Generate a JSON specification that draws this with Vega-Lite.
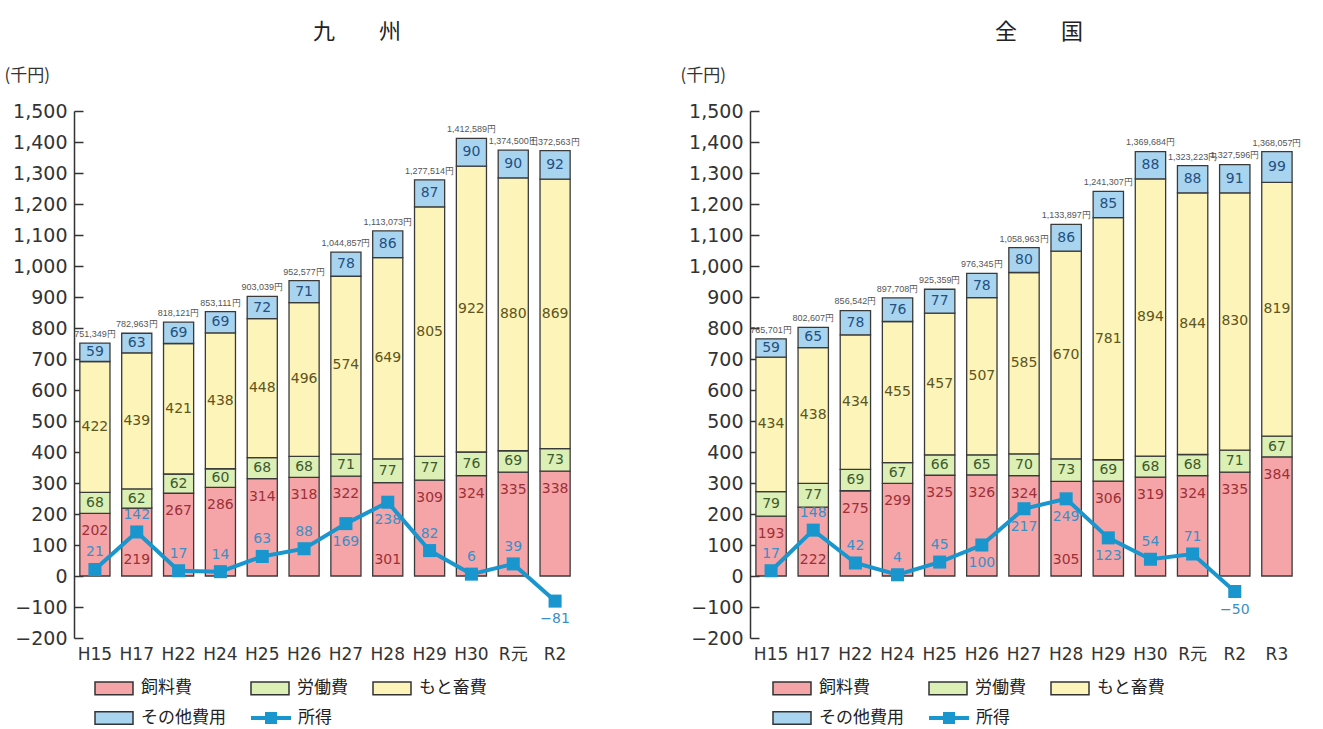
{
  "$schema": "https://vega.github.io/schema/vega-lite/v6.json",
  "background": "white",
  "padding": {"left": 4, "top": 21, "right": 5, "bottom": 0},
  "config": {"view": {"stroke": null}, "font": "Noto Sans CJK JP", "axis": {"grid": false}, "axisY": {"labelOverlap": false, "format": ",d", "titleAngle": 0, "titleAlign": "left", "titleBaseline": "middle", "titleX": -70, "titleY": -36, "titleFontSize": 17, "titleFontWeight": "normal", "titleFont": "Noto Sans CJK JP", "titleColor": "#333", "labelFont": "DejaVu Sans", "labelFontSize": 19, "labelColor": "#333", "domainColor": "#333", "domainWidth": 1.5, "tickColor": "#333", "tickWidth": 1.5, "tickSize": -9, "labelPadding": 16}},
  "datasets": {
    "k_cost": [
      {"区分":"H15","項目":"飼料費","千円":202},{"区分":"H15","項目":"労働費","千円":68},{"区分":"H15","項目":"もと畜費","千円":422},{"区分":"H15","項目":"その他費用","千円":59},
      {"区分":"H17","項目":"飼料費","千円":219},{"区分":"H17","項目":"労働費","千円":62},{"区分":"H17","項目":"もと畜費","千円":439},{"区分":"H17","項目":"その他費用","千円":63},
      {"区分":"H22","項目":"飼料費","千円":267},{"区分":"H22","項目":"労働費","千円":62},{"区分":"H22","項目":"もと畜費","千円":421},{"区分":"H22","項目":"その他費用","千円":69},
      {"区分":"H24","項目":"飼料費","千円":286},{"区分":"H24","項目":"労働費","千円":60},{"区分":"H24","項目":"もと畜費","千円":438},{"区分":"H24","項目":"その他費用","千円":69},
      {"区分":"H25","項目":"飼料費","千円":314},{"区分":"H25","項目":"労働費","千円":68},{"区分":"H25","項目":"もと畜費","千円":448},{"区分":"H25","項目":"その他費用","千円":72},
      {"区分":"H26","項目":"飼料費","千円":318},{"区分":"H26","項目":"労働費","千円":68},{"区分":"H26","項目":"もと畜費","千円":496},{"区分":"H26","項目":"その他費用","千円":71},
      {"区分":"H27","項目":"飼料費","千円":322},{"区分":"H27","項目":"労働費","千円":71},{"区分":"H27","項目":"もと畜費","千円":574},{"区分":"H27","項目":"その他費用","千円":78},
      {"区分":"H28","項目":"飼料費","千円":301},{"区分":"H28","項目":"労働費","千円":77},{"区分":"H28","項目":"もと畜費","千円":649},{"区分":"H28","項目":"その他費用","千円":86},
      {"区分":"H29","項目":"飼料費","千円":309},{"区分":"H29","項目":"労働費","千円":77},{"区分":"H29","項目":"もと畜費","千円":805},{"区分":"H29","項目":"その他費用","千円":87},
      {"区分":"H30","項目":"飼料費","千円":324},{"区分":"H30","項目":"労働費","千円":76},{"区分":"H30","項目":"もと畜費","千円":922},{"区分":"H30","項目":"その他費用","千円":90},
      {"区分":"R元","項目":"飼料費","千円":335},{"区分":"R元","項目":"労働費","千円":69},{"区分":"R元","項目":"もと畜費","千円":880},{"区分":"R元","項目":"その他費用","千円":90},
      {"区分":"R2","項目":"飼料費","千円":338},{"区分":"R2","項目":"労働費","千円":73},{"区分":"R2","項目":"もと畜費","千円":869},{"区分":"R2","項目":"その他費用","千円":92}
    ],
    "k_sum": [
      {"区分":"H15","所得":21,"合計":751.349,"合計表示":"751,349円"},
      {"区分":"H17","所得":142,"合計":782.963,"合計表示":"782,963円"},
      {"区分":"H22","所得":17,"合計":818.121,"合計表示":"818,121円"},
      {"区分":"H24","所得":14,"合計":853.111,"合計表示":"853,111円"},
      {"区分":"H25","所得":63,"合計":903.039,"合計表示":"903,039円"},
      {"区分":"H26","所得":88,"合計":952.577,"合計表示":"952,577円"},
      {"区分":"H27","所得":169,"合計":1044.857,"合計表示":"1,044,857円"},
      {"区分":"H28","所得":238,"合計":1113.073,"合計表示":"1,113,073円"},
      {"区分":"H29","所得":82,"合計":1277.514,"合計表示":"1,277,514円"},
      {"区分":"H30","所得":6,"合計":1412.589,"合計表示":"1,412,589円"},
      {"区分":"R元","所得":39,"合計":1374.5,"合計表示":"1,374,500円"},
      {"区分":"R2","所得":-81,"合計":1372.563,"合計表示":"1,372,563円"}
    ],
    "z_cost": [
      {"区分":"H15","項目":"飼料費","千円":193},{"区分":"H15","項目":"労働費","千円":79},{"区分":"H15","項目":"もと畜費","千円":434},{"区分":"H15","項目":"その他費用","千円":59},
      {"区分":"H17","項目":"飼料費","千円":222},{"区分":"H17","項目":"労働費","千円":77},{"区分":"H17","項目":"もと畜費","千円":438},{"区分":"H17","項目":"その他費用","千円":65},
      {"区分":"H22","項目":"飼料費","千円":275},{"区分":"H22","項目":"労働費","千円":69},{"区分":"H22","項目":"もと畜費","千円":434},{"区分":"H22","項目":"その他費用","千円":78},
      {"区分":"H24","項目":"飼料費","千円":299},{"区分":"H24","項目":"労働費","千円":67},{"区分":"H24","項目":"もと畜費","千円":455},{"区分":"H24","項目":"その他費用","千円":76},
      {"区分":"H25","項目":"飼料費","千円":325},{"区分":"H25","項目":"労働費","千円":66},{"区分":"H25","項目":"もと畜費","千円":457},{"区分":"H25","項目":"その他費用","千円":77},
      {"区分":"H26","項目":"飼料費","千円":326},{"区分":"H26","項目":"労働費","千円":65},{"区分":"H26","項目":"もと畜費","千円":507},{"区分":"H26","項目":"その他費用","千円":78},
      {"区分":"H27","項目":"飼料費","千円":324},{"区分":"H27","項目":"労働費","千円":70},{"区分":"H27","項目":"もと畜費","千円":585},{"区分":"H27","項目":"その他費用","千円":80},
      {"区分":"H28","項目":"飼料費","千円":305},{"区分":"H28","項目":"労働費","千円":73},{"区分":"H28","項目":"もと畜費","千円":670},{"区分":"H28","項目":"その他費用","千円":86},
      {"区分":"H29","項目":"飼料費","千円":306},{"区分":"H29","項目":"労働費","千円":69},{"区分":"H29","項目":"もと畜費","千円":781},{"区分":"H29","項目":"その他費用","千円":85},
      {"区分":"H30","項目":"飼料費","千円":319},{"区分":"H30","項目":"労働費","千円":68},{"区分":"H30","項目":"もと畜費","千円":894},{"区分":"H30","項目":"その他費用","千円":88},
      {"区分":"R元","項目":"飼料費","千円":324},{"区分":"R元","項目":"労働費","千円":68},{"区分":"R元","項目":"もと畜費","千円":844},{"区分":"R元","項目":"その他費用","千円":88},
      {"区分":"R2","項目":"飼料費","千円":335},{"区分":"R2","項目":"労働費","千円":71},{"区分":"R2","項目":"もと畜費","千円":830},{"区分":"R2","項目":"その他費用","千円":91},
      {"区分":"R3","項目":"飼料費","千円":384},{"区分":"R3","項目":"労働費","千円":67},{"区分":"R3","項目":"もと畜費","千円":819},{"区分":"R3","項目":"その他費用","千円":99}
    ],
    "z_sum": [
      {"区分":"H15","所得":17,"合計":765.701,"合計表示":"765,701円"},
      {"区分":"H17","所得":148,"合計":802.607,"合計表示":"802,607円"},
      {"区分":"H22","所得":42,"合計":856.542,"合計表示":"856,542円"},
      {"区分":"H24","所得":4,"合計":897.708,"合計表示":"897,708円"},
      {"区分":"H25","所得":45,"合計":925.359,"合計表示":"925,359円"},
      {"区分":"H26","所得":100,"合計":976.345,"合計表示":"976,345円"},
      {"区分":"H27","所得":217,"合計":1058.963,"合計表示":"1,058,963円"},
      {"区分":"H28","所得":249,"合計":1133.897,"合計表示":"1,133,897円"},
      {"区分":"H29","所得":123,"合計":1241.307,"合計表示":"1,241,307円"},
      {"区分":"H30","所得":54,"合計":1369.684,"合計表示":"1,369,684円"},
      {"区分":"R元","所得":71,"合計":1323.223,"合計表示":"1,323,223円"},
      {"区分":"R2","所得":-50,"合計":1327.596,"合計表示":"1,327,596円"},
      {"区分":"R3","所得":null,"合計":1368.057,"合計表示":"1,368,057円"}
    ]
  },
  "spacing": 100,
  "resolve": {"scale": {"fill": "independent", "color": "independent", "stroke": "independent"}, "legend": {"fill": "independent", "color": "independent", "stroke": "independent"}},
  "hconcat": [
    {
      "width": 502, "height": 527,
      "title": {"text": "九　　州", "fontSize": 22, "fontWeight": "normal", "color": "#222", "font": "Noto Sans CJK JP", "dx": 32, "offset": 22, "anchor": "middle"},
      "layer": [
        {
          "data": {"name": "k_cost"},
          "mark": {"type": "bar", "stroke": "#3a3a3a", "strokeWidth": 1.3},
          "encoding": {
            "x": {"field": "区分", "type": "nominal", "title": null, "scale": {"domain": ["H15","H17","H22","H24","H25","H26","H27","H28","H29","H30","R元","R2"], "paddingInner": 0.28, "paddingOuter": 0.14}, "axis": {"labelAngle": 0, "domain": false, "ticks": false, "labelFontSize": 17, "labelFont": "DejaVu Sans, Noto Sans CJK JP", "labelColor": "#333", "labelPadding": 8}},
            "y": {"field": "千円", "type": "quantitative", "stack": "zero", "title": "(千円)", "scale": {"domain": [-200, 1500], "nice": false, "zero": false}, "axis": {"values": [-200,-100,0,100,200,300,400,500,600,700,800,900,1000,1100,1200,1300,1400,1500], "labelOverlap": false}},
            "fill": {"field": "項目", "type": "nominal", "scale": {"domain": ["飼料費","労働費","もと畜費","その他費用"], "range": ["#f5a5a7","#dcefb5","#fcf4b9","#a8d4f0"]}, "legend": {"orient": "none", "legendX": 20, "legendY": 557, "direction": "horizontal", "columns": 3, "title": null, "symbolType": "M-1,-0.33H1V0.33H-1Z", "symbolSize": 1444, "symbolStrokeColor": "#333", "symbolStrokeWidth": 1.5, "labelFontSize": 17, "labelFont": "Noto Sans CJK JP", "labelColor": "#222", "labelOffset": 7, "columnPadding": 22, "rowPadding": -7}}
          }
        },
        {
          "data": {"name": "k_cost"},
          "mark": {"type": "text", "fontSize": 14, "font": "DejaVu Sans", "baseline": "middle"},
          "encoding": {
            "x": {"field": "区分", "type": "nominal"},
            "y": {"field": "千円", "type": "quantitative", "stack": "zero", "bandPosition": 0.5, "title": "(千円)", "axis": {"values": [-200,-100,0,100,200,300,400,500,600,700,800,900,1000,1100,1200,1300,1400,1500], "labelOverlap": false}},
            "color": {"field": "項目", "type": "nominal", "scale": {"domain": ["飼料費","労働費","もと畜費","その他費用"], "range": ["#9c3038","#3d5a2c","#5e5520","#24507e"]}, "legend": null},
            "text": {"condition": {"test": {"field": "項目", "equal": "飼料費"}, "value": ""}, "field": "千円", "type": "quantitative"}
          }
        },
        {
          "data": {"name": "k_cost"},
          "transform": [{"filter": {"field": "項目", "equal": "飼料費"}}, {"filter": {"not": {"field": "区分", "oneOf": ["H17","H28"]}}}],
          "mark": {"type": "text", "fontSize": 14, "font": "DejaVu Sans", "baseline": "middle", "color": "#9c3038", "dy": 18},
          "encoding": {
            "x": {"field": "区分", "type": "nominal"},
            "y": {"field": "千円", "type": "quantitative", "title": "(千円)", "axis": {"values": [-200,-100,0,100,200,300,400,500,600,700,800,900,1000,1100,1200,1300,1400,1500], "labelOverlap": false}},
            "text": {"field": "千円", "type": "quantitative"}
          }
        },
        {
          "data": {"name": "k_cost"},
          "transform": [{"filter": {"field": "項目", "equal": "飼料費"}}, {"filter": {"field": "区分", "oneOf": ["H17","H28"]}}],
          "mark": {"type": "text", "fontSize": 14, "font": "DejaVu Sans", "baseline": "middle", "color": "#9c3038", "dy": -16},
          "encoding": {
            "x": {"field": "区分", "type": "nominal"},
            "y": {"datum": 0, "type": "quantitative", "title": "(千円)", "axis": {"values": [-200,-100,0,100,200,300,400,500,600,700,800,900,1000,1100,1200,1300,1400,1500], "labelOverlap": false}},
            "text": {"field": "千円", "type": "quantitative"}
          }
        },
        {
          "data": {"name": "k_sum"},
          "mark": {"type": "line", "strokeWidth": 4},
          "encoding": {
            "x": {"field": "区分", "type": "nominal"},
            "y": {"field": "所得", "type": "quantitative", "title": "(千円)", "axis": {"values": [-200,-100,0,100,200,300,400,500,600,700,800,900,1000,1100,1200,1300,1400,1500], "labelOverlap": false}},
            "stroke": {"datum": "所得", "scale": {"range": ["#1a96cf"]}, "legend": {"orient": "none", "legendX": 177, "legendY": 587, "title": null, "symbolType": "M-1,-0.1H-0.3V-0.3H0.3V-0.1H1V0.1H0.3V0.3H-0.3V0.1H-1Z", "symbolSize": 1600, "symbolFillColor": "#1a96cf", "symbolStrokeWidth": 0, "labelFontSize": 17, "labelFont": "Noto Sans CJK JP", "labelColor": "#222", "labelOffset": 7}}
          }
        },
        {
          "data": {"name": "k_sum"},
          "mark": {"type": "point", "shape": "square", "filled": true, "size": 170, "color": "#1a96cf", "opacity": 1},
          "encoding": {
            "x": {"field": "区分", "type": "nominal"},
            "y": {"field": "所得", "type": "quantitative", "title": "(千円)", "axis": {"values": [-200,-100,0,100,200,300,400,500,600,700,800,900,1000,1100,1200,1300,1400,1500], "labelOverlap": false}}
          }
        },
        {
          "data": {"name": "k_sum"},
          "transform": [{"filter": {"or": [{"and": [{"field": "所得", "gte": 0}, {"field": "所得", "lt": 100}]}, {"field": "区分", "equal": "H17"}]}}],
          "mark": {"type": "text", "fontSize": 14, "font": "DejaVu Sans", "color": "#3a8fc6", "dy": -17},
          "encoding": {
            "x": {"field": "区分", "type": "nominal"},
            "y": {"field": "所得", "type": "quantitative", "title": "(千円)", "axis": {"values": [-200,-100,0,100,200,300,400,500,600,700,800,900,1000,1100,1200,1300,1400,1500], "labelOverlap": false}},
            "text": {"field": "所得", "type": "quantitative"}
          }
        },
        {
          "data": {"name": "k_sum"},
          "transform": [{"filter": {"or": [{"field": "所得", "lt": 0}, {"and": [{"field": "所得", "gte": 100}, {"not": {"field": "区分", "equal": "H17"}}]}]}}],
          "mark": {"type": "text", "fontSize": 14, "font": "DejaVu Sans", "color": "#3a8fc6", "dy": 18},
          "encoding": {
            "x": {"field": "区分", "type": "nominal"},
            "y": {"field": "所得", "type": "quantitative", "title": "(千円)", "axis": {"values": [-200,-100,0,100,200,300,400,500,600,700,800,900,1000,1100,1200,1300,1400,1500], "labelOverlap": false}},
            "text": {"field": "所得", "type": "quantitative"}
          }
        },
        {
          "data": {"name": "k_sum"},
          "mark": {"type": "text", "fontSize": 9, "font": "Liberation Sans", "color": "#555", "dy": -9},
          "encoding": {
            "x": {"field": "区分", "type": "nominal"},
            "y": {"field": "合計", "type": "quantitative", "title": "(千円)", "axis": {"values": [-200,-100,0,100,200,300,400,500,600,700,800,900,1000,1100,1200,1300,1400,1500], "labelOverlap": false}},
            "text": {"field": "合計表示", "type": "nominal"}
          }
        }
      ]
    },
    {
      "width": 548, "height": 527,
      "title": {"text": "全　　国", "fontSize": 22, "fontWeight": "normal", "color": "#222", "font": "Noto Sans CJK JP", "dx": 15, "offset": 22, "anchor": "middle"},
      "layer": [
        {
          "data": {"name": "z_cost"},
          "mark": {"type": "bar", "stroke": "#3a3a3a", "strokeWidth": 1.3},
          "encoding": {
            "x": {"field": "区分", "type": "nominal", "title": null, "scale": {"domain": ["H15","H17","H22","H24","H25","H26","H27","H28","H29","H30","R元","R2","R3"], "paddingInner": 0.28, "paddingOuter": 0.14}, "axis": {"labelAngle": 0, "domain": false, "ticks": false, "labelFontSize": 17, "labelFont": "DejaVu Sans, Noto Sans CJK JP", "labelColor": "#333", "labelPadding": 8}},
            "y": {"field": "千円", "type": "quantitative", "stack": "zero", "title": "(千円)", "scale": {"domain": [-200, 1500], "nice": false, "zero": false}, "axis": {"values": [-200,-100,0,100,200,300,400,500,600,700,800,900,1000,1100,1200,1300,1400,1500], "labelOverlap": false}},
            "fill": {"field": "項目", "type": "nominal", "scale": {"domain": ["飼料費","労働費","もと畜費","その他費用"], "range": ["#f5a5a7","#dcefb5","#fcf4b9","#a8d4f0"]}, "legend": {"orient": "none", "legendX": 22, "legendY": 557, "direction": "horizontal", "columns": 3, "title": null, "symbolType": "M-1,-0.33H1V0.33H-1Z", "symbolSize": 1444, "symbolStrokeColor": "#333", "symbolStrokeWidth": 1.5, "labelFontSize": 17, "labelFont": "Noto Sans CJK JP", "labelColor": "#222", "labelOffset": 7, "columnPadding": 22, "rowPadding": -7}}
          }
        },
        {
          "data": {"name": "z_cost"},
          "mark": {"type": "text", "fontSize": 14, "font": "DejaVu Sans", "baseline": "middle"},
          "encoding": {
            "x": {"field": "区分", "type": "nominal"},
            "y": {"field": "千円", "type": "quantitative", "stack": "zero", "bandPosition": 0.5, "title": "(千円)", "axis": {"values": [-200,-100,0,100,200,300,400,500,600,700,800,900,1000,1100,1200,1300,1400,1500], "labelOverlap": false}},
            "color": {"field": "項目", "type": "nominal", "scale": {"domain": ["飼料費","労働費","もと畜費","その他費用"], "range": ["#9c3038","#3d5a2c","#5e5520","#24507e"]}, "legend": null},
            "text": {"condition": {"test": {"field": "項目", "equal": "飼料費"}, "value": ""}, "field": "千円", "type": "quantitative"}
          }
        },
        {
          "data": {"name": "z_cost"},
          "transform": [{"filter": {"field": "項目", "equal": "飼料費"}}, {"filter": {"not": {"field": "区分", "oneOf": ["H17","H28"]}}}],
          "mark": {"type": "text", "fontSize": 14, "font": "DejaVu Sans", "baseline": "middle", "color": "#9c3038", "dy": 18},
          "encoding": {
            "x": {"field": "区分", "type": "nominal"},
            "y": {"field": "千円", "type": "quantitative", "title": "(千円)", "axis": {"values": [-200,-100,0,100,200,300,400,500,600,700,800,900,1000,1100,1200,1300,1400,1500], "labelOverlap": false}},
            "text": {"field": "千円", "type": "quantitative"}
          }
        },
        {
          "data": {"name": "z_cost"},
          "transform": [{"filter": {"field": "項目", "equal": "飼料費"}}, {"filter": {"field": "区分", "oneOf": ["H17","H28"]}}],
          "mark": {"type": "text", "fontSize": 14, "font": "DejaVu Sans", "baseline": "middle", "color": "#9c3038", "dy": -16},
          "encoding": {
            "x": {"field": "区分", "type": "nominal"},
            "y": {"datum": 0, "type": "quantitative", "title": "(千円)", "axis": {"values": [-200,-100,0,100,200,300,400,500,600,700,800,900,1000,1100,1200,1300,1400,1500], "labelOverlap": false}},
            "text": {"field": "千円", "type": "quantitative"}
          }
        },
        {
          "data": {"name": "z_sum"},
          "mark": {"type": "line", "strokeWidth": 4},
          "encoding": {
            "x": {"field": "区分", "type": "nominal"},
            "y": {"field": "所得", "type": "quantitative", "title": "(千円)", "axis": {"values": [-200,-100,0,100,200,300,400,500,600,700,800,900,1000,1100,1200,1300,1400,1500], "labelOverlap": false}},
            "stroke": {"datum": "所得", "scale": {"range": ["#1a96cf"]}, "legend": {"orient": "none", "legendX": 179, "legendY": 587, "title": null, "symbolType": "M-1,-0.1H-0.3V-0.3H0.3V-0.1H1V0.1H0.3V0.3H-0.3V0.1H-1Z", "symbolSize": 1600, "symbolFillColor": "#1a96cf", "symbolStrokeWidth": 0, "labelFontSize": 17, "labelFont": "Noto Sans CJK JP", "labelColor": "#222", "labelOffset": 7}}
          }
        },
        {
          "data": {"name": "z_sum"},
          "mark": {"type": "point", "shape": "square", "filled": true, "size": 170, "color": "#1a96cf", "opacity": 1},
          "encoding": {
            "x": {"field": "区分", "type": "nominal"},
            "y": {"field": "所得", "type": "quantitative", "title": "(千円)", "axis": {"values": [-200,-100,0,100,200,300,400,500,600,700,800,900,1000,1100,1200,1300,1400,1500], "labelOverlap": false}}
          }
        },
        {
          "data": {"name": "z_sum"},
          "transform": [{"filter": {"or": [{"and": [{"field": "所得", "gte": 0}, {"field": "所得", "lt": 100}]}, {"field": "区分", "equal": "H17"}]}}],
          "mark": {"type": "text", "fontSize": 14, "font": "DejaVu Sans", "color": "#3a8fc6", "dy": -17},
          "encoding": {
            "x": {"field": "区分", "type": "nominal"},
            "y": {"field": "所得", "type": "quantitative", "title": "(千円)", "axis": {"values": [-200,-100,0,100,200,300,400,500,600,700,800,900,1000,1100,1200,1300,1400,1500], "labelOverlap": false}},
            "text": {"field": "所得", "type": "quantitative"}
          }
        },
        {
          "data": {"name": "z_sum"},
          "transform": [{"filter": {"or": [{"field": "所得", "lt": 0}, {"and": [{"field": "所得", "gte": 100}, {"not": {"field": "区分", "equal": "H17"}}]}]}}],
          "mark": {"type": "text", "fontSize": 14, "font": "DejaVu Sans", "color": "#3a8fc6", "dy": 18},
          "encoding": {
            "x": {"field": "区分", "type": "nominal"},
            "y": {"field": "所得", "type": "quantitative", "title": "(千円)", "axis": {"values": [-200,-100,0,100,200,300,400,500,600,700,800,900,1000,1100,1200,1300,1400,1500], "labelOverlap": false}},
            "text": {"field": "所得", "type": "quantitative"}
          }
        },
        {
          "data": {"name": "z_sum"},
          "mark": {"type": "text", "fontSize": 9, "font": "Liberation Sans", "color": "#555", "dy": -9},
          "encoding": {
            "x": {"field": "区分", "type": "nominal"},
            "y": {"field": "合計", "type": "quantitative", "title": "(千円)", "axis": {"values": [-200,-100,0,100,200,300,400,500,600,700,800,900,1000,1100,1200,1300,1400,1500], "labelOverlap": false}},
            "text": {"field": "合計表示", "type": "nominal"}
          }
        }
      ]
    }
  ]
}
